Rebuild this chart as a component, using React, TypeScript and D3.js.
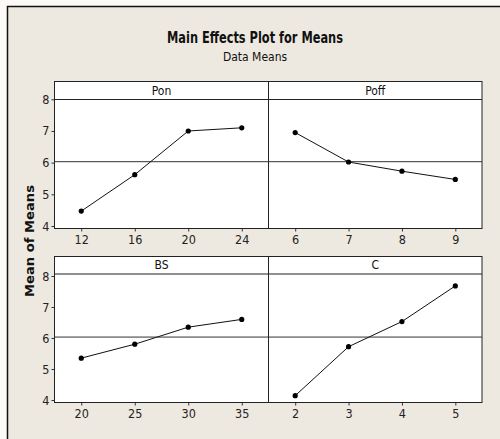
import { useEffect, useRef } from 'react';
import * as d3 from 'd3';

// factor names and levels
const factors = ['Pon', 'Poff', 'BS', 'C'];
const levels = [
  ['12', '16', '20', '24'],
  ['6', '7', '8', '9'],
  ['20', '25', '30', '35'],
  ['2', '3', '4', '5'],
];
// mean of means for each level
const ponMeans = [4.47, 5.62, 7.0, 7.1];
const poffMeans = [6.95, 6.02, 5.73, 5.47];
const bsMeans = [5.35, 5.8, 6.35, 6.6];
const cMeans = [4.14, 5.72, 6.53, 7.68];
const yTicks = [4, 5, 6, 7, 8];
const grandMean = 6.03;

const App = () => {
  const ref = useRef<SVGSVGElement>(null);

  useEffect(() => {
    const svg = d3.select(ref.current);
    svg.selectAll('*').remove();

    const means = [ponMeans, poffMeans, bsMeans, cMeans];
    const font = "'DejaVu Sans Condensed', 'DejaVu Sans', sans-serif";

    // frame
    svg.append('rect').attr('width', 500).attr('height', 439).attr('fill', '#fbfaf7');
    svg.append('rect')
      .attr('x', 7.5).attr('y', 6.5).attr('width', 500).attr('height', 440)
      .attr('fill', '#eee9e0').attr('stroke', '#111').attr('stroke-width', 1.5);

    svg.append('text')
      .attr('x', 255).attr('y', 43)
      .attr('text-anchor', 'middle')
      .attr('textLength', 176).attr('lengthAdjust', 'spacingAndGlyphs')
      .style('font-family', font).style('font-weight', 'bold').style('font-size', '15px')
      .attr('fill', '#111')
      .text('Main Effects Plot for Means');
    svg.append('text')
      .attr('x', 255).attr('y', 61)
      .attr('text-anchor', 'middle')
      .style('font-family', font).style('font-size', '12px')
      .attr('fill', '#111')
      .text('Data Means');

    svg.append('text')
      .attr('transform', 'translate(34,241) rotate(-90)')
      .attr('text-anchor', 'middle')
      .attr('textLength', 112).attr('lengthAdjust', 'spacingAndGlyphs')
      .style('font-family', "'DejaVu Sans', sans-serif").style('font-weight', 'bold').style('font-size', '12px')
      .attr('fill', '#111')
      .text('Mean of Means');

    const left = 54.5, mid = 268.5, right = 482;
    const rows = [
      { top: 81.5, strip: 99.5, bottom: 228.5, yTop: 99.3, yBot: 226 },
      { top: 256.5, strip: 274, bottom: 402.5, yTop: 276, yBot: 400 },
    ];

    factors.forEach((name, i) => {
      const row = rows[Math.floor(i / 2)];
      const col = i % 2;
      const x0 = col === 0 ? left : mid;
      const x1 = col === 0 ? mid : right;

      const x = d3.scalePoint<string>().domain(levels[i]).range([x0, x1]).padding(0.5);
      const y = d3.scaleLinear().domain([4, 8]).range([row.yBot, row.yTop]);

      const g = svg.append('g');
      g.append('rect')
        .attr('x', x0).attr('y', row.top).attr('width', x1 - x0).attr('height', row.bottom - row.top)
        .attr('fill', '#fff').attr('stroke', '#222').attr('stroke-width', 1);
      g.append('line')
        .attr('x1', x0).attr('x2', x1).attr('y1', row.strip).attr('y2', row.strip)
        .attr('stroke', '#222').attr('stroke-width', 1.2);
      g.append('text')
        .attr('x', (x0 + x1) / 2).attr('y', row.strip - 5)
        .attr('text-anchor', 'middle')
        .style('font-family', font).style('font-size', '12px')
        .attr('fill', '#111')
        .text(name);

      // reference line at grand mean
      g.append('line')
        .attr('x1', x0).attr('x2', x1).attr('y1', y(grandMean)).attr('y2', y(grandMean))
        .attr('stroke', '#333').attr('stroke-width', 1);

      // x axis
      const xa = g.append('g')
        .attr('transform', `translate(0,${row.bottom})`)
        .call(d3.axisBottom(x).tickSize(3).tickPadding(4));
      xa.select('.domain').remove();
      xa.selectAll('line').attr('stroke', '#333');
      xa.selectAll('text').style('font-family', font).style('font-size', '12.5px').attr('fill', '#222');

      if (col === 0) {
        const ya = g.append('g')
          .attr('transform', `translate(${x0},0)`)
          .call(d3.axisLeft(y).tickValues(yTicks).tickFormat(d3.format('d')).tickSize(3).tickPadding(2));
        ya.select('.domain').remove();
        ya.selectAll('line').attr('stroke', '#333');
        ya.selectAll('text').style('font-family', font).style('font-size', '12.5px').attr('fill', '#222');
      }

      const pts = levels[i].map((l, k) => [x(l) as number, y(means[i][k])] as [number, number]);
      g.append('path')
        .attr('d', d3.line()(pts))
        .attr('fill', 'none').attr('stroke', '#111').attr('stroke-width', 1);
      g.selectAll('circle.pt').data(pts).enter().append('circle')
        .attr('class', 'pt')
        .attr('cx', d => d[0]).attr('cy', d => d[1]).attr('r', 2.6)
        .attr('fill', '#000');
    });
  }, []);

  return (
    <svg ref={ref} width={500} height={439}
      style={{ position: 'absolute', left: 0, top: 0, display: 'block' }} />
  );
};

export default App;
